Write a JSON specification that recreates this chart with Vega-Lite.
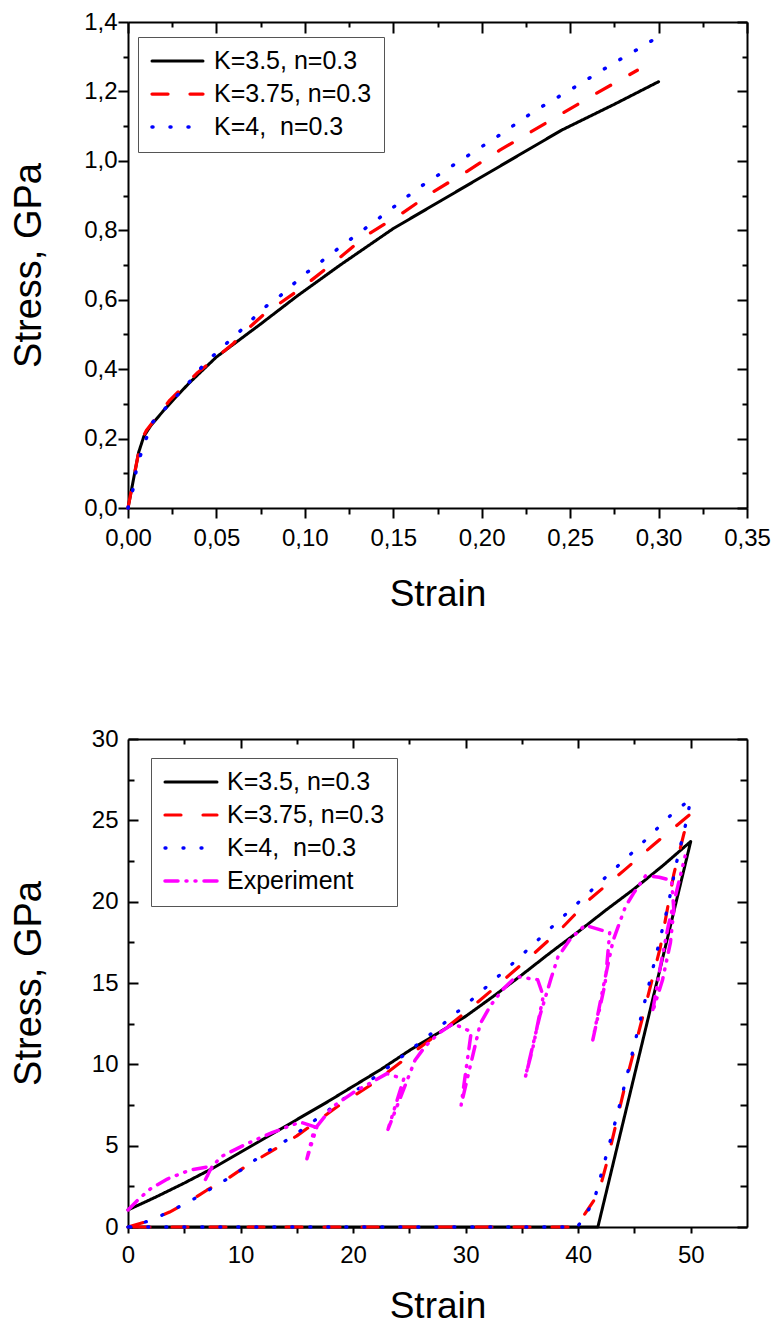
{
"$schema":"https://vega.github.io/schema/vega-lite/v6.json",
"padding":{"left":10,"top":10,"right":0,"bottom":0},
"bounds":"flush",
"spacing":231,
"config":{"view":{"stroke":null},"font":"Liberation Sans",
 "axis":{"grid":false,"domainColor":"#000","domainWidth":2,"tickColor":"#000","tickWidth":2,"labelColor":"#000","labelFont":"Liberation Sans","labelFontSize":24,"labelFlush":false,"labelOverlap":false,"titleColor":"#000","titleFont":"Liberation Sans","titleFontSize":37,"titleFontWeight":"normal"}},
"resolve":{"scale":{"color":"independent","strokeDash":"independent","strokeWidth":"independent"},"legend":{"color":"independent","strokeDash":"independent"}},
"datasets":{
"top":[
{"s":"K=3.5, n=0.3","x":0,"y":0,"i":0},{"s":"K=3.5, n=0.3","x":0.003,"y":0.08,"i":1},{"s":"K=3.5, n=0.3","x":0.006,"y":0.16,"i":2},{"s":"K=3.5, n=0.3","x":0.009,"y":0.207,"i":3},{"s":"K=3.5, n=0.3","x":0.013,"y":0.238,"i":4},{"s":"K=3.5, n=0.3","x":0.02,"y":0.28,"i":5},{"s":"K=3.5, n=0.3","x":0.0275,"y":0.322,"i":6},{"s":"K=3.5, n=0.3","x":0.035,"y":0.362,"i":7},{"s":"K=3.5, n=0.3","x":0.05,"y":0.435,"i":8},{"s":"K=3.5, n=0.3","x":0.075,"y":0.53,"i":9},{"s":"K=3.5, n=0.3","x":0.096,"y":0.612,"i":10},{"s":"K=3.5, n=0.3","x":0.12,"y":0.7,"i":11},{"s":"K=3.5, n=0.3","x":0.15,"y":0.805,"i":12},{"s":"K=3.5, n=0.3","x":0.245,"y":1.088,"i":13},{"s":"K=3.5, n=0.3","x":0.275,"y":1.163,"i":14},{"s":"K=3.5, n=0.3","x":0.3,"y":1.228,"i":15},
{"s":"K=3.75, n=0.3","x":0,"y":0,"i":0},{"s":"K=3.75, n=0.3","x":0.003,"y":0.08,"i":1},{"s":"K=3.75, n=0.3","x":0.006,"y":0.16,"i":2},{"s":"K=3.75, n=0.3","x":0.009,"y":0.21,"i":3},{"s":"K=3.75, n=0.3","x":0.0106,"y":0.225,"i":4},{"s":"K=3.75, n=0.3","x":0.0237,"y":0.311,"i":5},{"s":"K=3.75, n=0.3","x":0.0389,"y":0.388,"i":6},{"s":"K=3.75, n=0.3","x":0.0482,"y":0.426,"i":7},{"s":"K=3.75, n=0.3","x":0.0596,"y":0.474,"i":8},{"s":"K=3.75, n=0.3","x":0.067,"y":0.513,"i":9},{"s":"K=3.75, n=0.3","x":0.0765,"y":0.556,"i":10},{"s":"K=3.75, n=0.3","x":0.099,"y":0.637,"i":11},{"s":"K=3.75, n=0.3","x":0.118,"y":0.714,"i":12},{"s":"K=3.75, n=0.3","x":0.135,"y":0.786,"i":13},{"s":"K=3.75, n=0.3","x":0.155,"y":0.849,"i":14},{"s":"K=3.75, n=0.3","x":0.1726,"y":0.911,"i":15},{"s":"K=3.75, n=0.3","x":0.1915,"y":0.969,"i":16},{"s":"K=3.75, n=0.3","x":0.21,"y":1.03,"i":17},{"s":"K=3.75, n=0.3","x":0.228,"y":1.084,"i":18},{"s":"K=3.75, n=0.3","x":0.247,"y":1.141,"i":19},{"s":"K=3.75, n=0.3","x":0.265,"y":1.195,"i":20},{"s":"K=3.75, n=0.3","x":0.288,"y":1.261,"i":21},
{"s":"K=4,\u00a0 n=0.3","x":0,"y":0,"i":0},{"s":"K=4,\u00a0 n=0.3","x":0.003,"y":0.057,"i":1},{"s":"K=4,\u00a0 n=0.3","x":0.005,"y":0.12,"i":2},{"s":"K=4,\u00a0 n=0.3","x":0.0087,"y":0.177,"i":3},{"s":"K=4,\u00a0 n=0.3","x":0.0134,"y":0.244,"i":4},{"s":"K=4,\u00a0 n=0.3","x":0.0228,"y":0.297,"i":5},{"s":"K=4,\u00a0 n=0.3","x":0.0332,"y":0.354,"i":6},{"s":"K=4,\u00a0 n=0.3","x":0.0435,"y":0.417,"i":7},{"s":"K=4,\u00a0 n=0.3","x":0.0548,"y":0.47,"i":8},{"s":"K=4,\u00a0 n=0.3","x":0.066,"y":0.522,"i":9},{"s":"K=4,\u00a0 n=0.3","x":0.0765,"y":0.575,"i":10},{"s":"K=4,\u00a0 n=0.3","x":0.0878,"y":0.618,"i":11},{"s":"K=4,\u00a0 n=0.3","x":0.098,"y":0.666,"i":12},{"s":"K=4,\u00a0 n=0.3","x":0.1208,"y":0.755,"i":13},{"s":"K=4,\u00a0 n=0.3","x":0.1425,"y":0.837,"i":14},{"s":"K=4,\u00a0 n=0.3","x":0.164,"y":0.921,"i":15},{"s":"K=4,\u00a0 n=0.3","x":0.187,"y":0.998,"i":16},{"s":"K=4,\u00a0 n=0.3","x":0.2085,"y":1.069,"i":17},{"s":"K=4,\u00a0 n=0.3","x":0.23,"y":1.144,"i":18},{"s":"K=4,\u00a0 n=0.3","x":0.2518,"y":1.21,"i":19},{"s":"K=4,\u00a0 n=0.3","x":0.2735,"y":1.278,"i":20},{"s":"K=4,\u00a0 n=0.3","x":0.2857,"y":1.314,"i":21},{"s":"K=4,\u00a0 n=0.3","x":0.3,"y":1.358,"i":22}
],
"bot":[
{"s":"K=3.5, n=0.3","x":0,"y":1.05,"i":0},{"s":"K=3.5, n=0.3","x":2.5,"y":1.85,"i":1},{"s":"K=3.5, n=0.3","x":5,"y":2.7,"i":2},{"s":"K=3.5, n=0.3","x":7.5,"y":3.6,"i":3},{"s":"K=3.5, n=0.3","x":10,"y":4.6,"i":4},{"s":"K=3.5, n=0.3","x":12.5,"y":5.6,"i":5},{"s":"K=3.5, n=0.3","x":15,"y":6.6,"i":6},{"s":"K=3.5, n=0.3","x":17.5,"y":7.6,"i":7},{"s":"K=3.5, n=0.3","x":20,"y":8.65,"i":8},{"s":"K=3.5, n=0.3","x":22.5,"y":9.7,"i":9},{"s":"K=3.5, n=0.3","x":25,"y":10.85,"i":10},{"s":"K=3.5, n=0.3","x":27.5,"y":11.9,"i":11},{"s":"K=3.5, n=0.3","x":30,"y":12.95,"i":12},{"s":"K=3.5, n=0.3","x":32.5,"y":14.2,"i":13},{"s":"K=3.5, n=0.3","x":35,"y":15.5,"i":14},{"s":"K=3.5, n=0.3","x":37.5,"y":16.85,"i":15},{"s":"K=3.5, n=0.3","x":40,"y":18.15,"i":16},{"s":"K=3.5, n=0.3","x":42.5,"y":19.5,"i":17},{"s":"K=3.5, n=0.3","x":45,"y":20.8,"i":18},{"s":"K=3.5, n=0.3","x":47.5,"y":22.2,"i":19},{"s":"K=3.5, n=0.3","x":50,"y":23.7,"i":20},{"s":"K=3.5, n=0.3","x":41.75,"y":0,"i":21},{"s":"K=3.5, n=0.3","x":0,"y":0,"i":22},
{"s":"K=3.75, n=0.3","x":0,"y":0,"i":0},{"s":"K=3.75, n=0.3","x":1.5,"y":0.3,"i":1},{"s":"K=3.75, n=0.3","x":3.7,"y":0.92,"i":2},{"s":"K=3.75, n=0.3","x":5.5,"y":1.6,"i":3},{"s":"K=3.75, n=0.3","x":7,"y":2.26,"i":4},{"s":"K=3.75, n=0.3","x":8.8,"y":2.95,"i":5},{"s":"K=3.75, n=0.3","x":10.5,"y":3.75,"i":6},{"s":"K=3.75, n=0.3","x":12.6,"y":4.6,"i":7},{"s":"K=3.75, n=0.3","x":15,"y":5.6,"i":8},{"s":"K=3.75, n=0.3","x":17,"y":6.6,"i":9},{"s":"K=3.75, n=0.3","x":19,"y":7.6,"i":10},{"s":"K=3.75, n=0.3","x":21.5,"y":8.7,"i":11},{"s":"K=3.75, n=0.3","x":24,"y":10,"i":12},{"s":"K=3.75, n=0.3","x":26,"y":11.07,"i":13},{"s":"K=3.75, n=0.3","x":28,"y":12.1,"i":14},{"s":"K=3.75, n=0.3","x":30,"y":13.2,"i":15},{"s":"K=3.75, n=0.3","x":32.5,"y":14.66,"i":16},{"s":"K=3.75, n=0.3","x":35.4,"y":16.4,"i":17},{"s":"K=3.75, n=0.3","x":38.3,"y":18.2,"i":18},{"s":"K=3.75, n=0.3","x":41.1,"y":20.2,"i":19},{"s":"K=3.75, n=0.3","x":44.1,"y":21.94,"i":20},{"s":"K=3.75, n=0.3","x":46.7,"y":23.5,"i":21},{"s":"K=3.75, n=0.3","x":50,"y":25.4,"i":22},{"s":"K=3.75, n=0.3","x":49.4,"y":24.2,"i":23},{"s":"K=3.75, n=0.3","x":48.5,"y":21.7,"i":24},{"s":"K=3.75, n=0.3","x":47.3,"y":17.2,"i":25},{"s":"K=3.75, n=0.3","x":45.8,"y":13.1,"i":26},{"s":"K=3.75, n=0.3","x":44.2,"y":8.8,"i":27},{"s":"K=3.75, n=0.3","x":42.6,"y":4.1,"i":28},{"s":"K=3.75, n=0.3","x":41.8,"y":2.05,"i":29},{"s":"K=3.75, n=0.3","x":40.2,"y":0.4,"i":30},{"s":"K=3.75, n=0.3","x":39.3,"y":0,"i":31},{"s":"K=3.75, n=0.3","x":0,"y":0,"i":32},
{"s":"K=4,\u00a0 n=0.3","x":0,"y":0,"i":0},{"s":"K=4,\u00a0 n=0.3","x":2,"y":0.4,"i":1},{"s":"K=4,\u00a0 n=0.3","x":3.7,"y":0.95,"i":2},{"s":"K=4,\u00a0 n=0.3","x":5.4,"y":1.54,"i":3},{"s":"K=4,\u00a0 n=0.3","x":7,"y":2.2,"i":4},{"s":"K=4,\u00a0 n=0.3","x":8.8,"y":2.95,"i":5},{"s":"K=4,\u00a0 n=0.3","x":10.5,"y":3.7,"i":6},{"s":"K=4,\u00a0 n=0.3","x":12,"y":4.5,"i":7},{"s":"K=4,\u00a0 n=0.3","x":13.8,"y":5.2,"i":8},{"s":"K=4,\u00a0 n=0.3","x":15.5,"y":6,"i":9},{"s":"K=4,\u00a0 n=0.3","x":17.4,"y":6.97,"i":10},{"s":"K=4,\u00a0 n=0.3","x":19.2,"y":7.9,"i":11},{"s":"K=4,\u00a0 n=0.3","x":20.9,"y":8.7,"i":12},{"s":"K=4,\u00a0 n=0.3","x":22.6,"y":9.55,"i":13},{"s":"K=4,\u00a0 n=0.3","x":24.3,"y":10.45,"i":14},{"s":"K=4,\u00a0 n=0.3","x":27.7,"y":12.3,"i":15},{"s":"K=4,\u00a0 n=0.3","x":31.1,"y":14.3,"i":16},{"s":"K=4,\u00a0 n=0.3","x":34.5,"y":16.4,"i":17},{"s":"K=4,\u00a0 n=0.3","x":38,"y":18.66,"i":18},{"s":"K=4,\u00a0 n=0.3","x":41.5,"y":20.9,"i":19},{"s":"K=4,\u00a0 n=0.3","x":45.1,"y":23.2,"i":20},{"s":"K=4,\u00a0 n=0.3","x":48.5,"y":25.5,"i":21},{"s":"K=4,\u00a0 n=0.3","x":50,"y":26.3,"i":22},{"s":"K=4,\u00a0 n=0.3","x":49.6,"y":24.9,"i":23},{"s":"K=4,\u00a0 n=0.3","x":48.7,"y":22.3,"i":24},{"s":"K=4,\u00a0 n=0.3","x":48,"y":19.8,"i":25},{"s":"K=4,\u00a0 n=0.3","x":47.1,"y":17.2,"i":26},{"s":"K=4,\u00a0 n=0.3","x":46.2,"y":14.66,"i":27},{"s":"K=4,\u00a0 n=0.3","x":45.3,"y":12.1,"i":28},{"s":"K=4,\u00a0 n=0.3","x":44.4,"y":9.5,"i":29},{"s":"K=4,\u00a0 n=0.3","x":43.5,"y":7,"i":30},{"s":"K=4,\u00a0 n=0.3","x":42.5,"y":4.4,"i":31},{"s":"K=4,\u00a0 n=0.3","x":41.5,"y":1.85,"i":32},{"s":"K=4,\u00a0 n=0.3","x":40.6,"y":0.6,"i":33},{"s":"K=4,\u00a0 n=0.3","x":39.9,"y":0,"i":34},{"s":"K=4,\u00a0 n=0.3","x":0,"y":0,"i":35},
{"s":"Experiment","x":0,"y":1.05,"i":0},{"s":"Experiment","x":1,"y":1.75,"i":1},{"s":"Experiment","x":2,"y":2.35,"i":2},{"s":"Experiment","x":3.5,"y":2.95,"i":3},{"s":"Experiment","x":5.5,"y":3.5,"i":4},{"s":"Experiment","x":7.5,"y":3.75,"i":5},{"s":"Experiment","x":6.8,"y":2.8,"i":6},{"s":"Experiment","x":7.3,"y":3.5,"i":7},{"s":"Experiment","x":8.2,"y":4.3,"i":8},{"s":"Experiment","x":10.5,"y":5.1,"i":9},{"s":"Experiment","x":12.8,"y":5.8,"i":10},{"s":"Experiment","x":15.3,"y":6.45,"i":11},{"s":"Experiment","x":16.6,"y":6.15,"i":12},{"s":"Experiment","x":15.9,"y":4.2,"i":13},{"s":"Experiment","x":16.8,"y":6.2,"i":14},{"s":"Experiment","x":18.2,"y":7.4,"i":15},{"s":"Experiment","x":20.1,"y":8.3,"i":16},{"s":"Experiment","x":21.4,"y":8.8,"i":17},{"s":"Experiment","x":23,"y":9.43,"i":18},{"s":"Experiment","x":24.5,"y":9.1,"i":19},{"s":"Experiment","x":23.1,"y":6,"i":20},{"s":"Experiment","x":25.5,"y":10.25,"i":21},{"s":"Experiment","x":26.4,"y":11.1,"i":22},{"s":"Experiment","x":27.6,"y":11.9,"i":23},{"s":"Experiment","x":28.9,"y":12.5,"i":24},{"s":"Experiment","x":30.5,"y":12,"i":25},{"s":"Experiment","x":29.6,"y":7.5,"i":26},{"s":"Experiment","x":31.3,"y":12.5,"i":27},{"s":"Experiment","x":32.2,"y":13.6,"i":28},{"s":"Experiment","x":33.3,"y":14.6,"i":29},{"s":"Experiment","x":34.5,"y":15.4,"i":30},{"s":"Experiment","x":36.4,"y":15.2,"i":31},{"s":"Experiment","x":36.9,"y":14.2,"i":32},{"s":"Experiment","x":36,"y":11.1,"i":33},{"s":"Experiment","x":35.3,"y":9.2,"i":34},{"s":"Experiment","x":36.6,"y":13,"i":35},{"s":"Experiment","x":37.6,"y":15.3,"i":36},{"s":"Experiment","x":38.2,"y":16.6,"i":37},{"s":"Experiment","x":39.3,"y":17.7,"i":38},{"s":"Experiment","x":40.6,"y":18.55,"i":39},{"s":"Experiment","x":42.8,"y":18.1,"i":40},{"s":"Experiment","x":42.4,"y":15,"i":41},{"s":"Experiment","x":41.9,"y":13.4,"i":42},{"s":"Experiment","x":41.3,"y":11.5,"i":43},{"s":"Experiment","x":42.3,"y":15,"i":44},{"s":"Experiment","x":43.1,"y":17.6,"i":45},{"s":"Experiment","x":44.2,"y":19.7,"i":46},{"s":"Experiment","x":45,"y":20.6,"i":47},{"s":"Experiment","x":46,"y":21.6,"i":48},{"s":"Experiment","x":47.2,"y":21.5,"i":49},{"s":"Experiment","x":48.3,"y":21.3,"i":50},{"s":"Experiment","x":48.5,"y":19.5,"i":51},{"s":"Experiment","x":48.2,"y":17.5,"i":52},{"s":"Experiment","x":47.5,"y":15.2,"i":53},{"s":"Experiment","x":46.6,"y":13.2,"i":54},{"s":"Experiment","x":47.3,"y":16,"i":55},{"s":"Experiment","x":48,"y":18.5,"i":56},{"s":"Experiment","x":49.5,"y":22.8,"i":57}
]},
"vconcat":[
{"width":619,"height":486,"data":{"name":"top"},
 "resolve":{"axis":{"x":"independent","y":"independent"}},
 "layer":[
 {"mark":{"type":"line","strokeCap":"round","strokeJoin":"round"},
  "encoding":{
   "x":{"field":"x","type":"quantitative","scale":{"domain":[0,0.35],"nice":false,"zero":false},
     "axis":{"orient":"bottom","values":[0,0.05,0.1,0.15,0.2,0.25,0.3,0.35],"labelExpr":"replace(format(datum.value,'.2f'),'.',',')","tickSize":10,"labelPadding":8,"title":"Strain","titleX":309.5,"titleY":86,"titleBaseline":"middle"}},
   "y":{"field":"y","type":"quantitative","scale":{"domain":[0,1.4],"nice":false,"zero":false},
     "axis":{"orient":"left","values":[0,0.2,0.4,0.6,0.8,1.0,1.2,1.4],"labelExpr":"replace(format(datum.value,'.1f'),'.',',')","tickSize":10,"labelPadding":1,"title":"Stress, GPa","titleFontSize":38,"titleAngle":-90,"titleX":-99,"titleY":243,"titleBaseline":"middle","titleAlign":"center"}},
   "order":{"field":"i","type":"quantitative"},
   "color":{"field":"s","type":"nominal","scale":{"domain":["K=3.5, n=0.3","K=3.75, n=0.3","K=4,\u00a0 n=0.3"],"range":["#000000","#ff0000","#0000ff"]},
     "legend":{"title":null,"orient":"none","legendX":10,"legendY":15,"symbolType":"stroke","symbolSize":2601,"symbolStrokeWidth":3.5,"labelFontSize":25,"labelFont":"Liberation Sans","labelColor":"#000","labelOffset":9,"rowPadding":8,"padding":12,"strokeColor":"#555","fillColor":"#ffffff","encode":{"symbols":{"update":{"strokeCap":{"value":"round"},"y":{"value":12}}},"labels":{"update":{"y":{"value":12}}}}}},
   "strokeDash":{"field":"s","type":"nominal","scale":{"domain":["K=3.5, n=0.3","K=3.75, n=0.3","K=4,\u00a0 n=0.3"],"range":[[1,0],[16,22],[1,17]]},
     "legend":{"title":null,"orient":"none","legendX":10,"legendY":15,"symbolType":"stroke","symbolSize":2601,"symbolStrokeWidth":3.5,"labelFontSize":25,"labelFont":"Liberation Sans","labelColor":"#000","labelOffset":9,"rowPadding":8,"padding":12,"strokeColor":"#555","fillColor":"#ffffff","encode":{"symbols":{"update":{"strokeCap":{"value":"round"},"y":{"value":12}}},"labels":{"update":{"y":{"value":12}}}}}},
   "strokeWidth":{"field":"s","type":"nominal","scale":{"domain":["K=3.5, n=0.3","K=3.75, n=0.3","K=4,\u00a0 n=0.3"],"range":[3,3.5,4.5]},"legend":null}
  }},
 {"mark":{"type":"point","opacity":0,"size":0},
  "encoding":{
   "x":{"field":"x","type":"quantitative","scale":{"domain":[0,0.35],"nice":false,"zero":false},"axis":{"orient":"bottom","values":[0.025,0.075,0.125,0.175,0.225,0.275,0.325],"tickSize":6,"labels":false,"domain":false,"title":null}},
   "y":{"field":"y","type":"quantitative","scale":{"domain":[0,1.4],"nice":false,"zero":false},"axis":{"orient":"left","values":[0.1,0.3,0.5,0.7,0.9,1.1,1.3],"tickSize":5,"labels":false,"domain":false,"title":null}}}},
 {"mark":{"type":"point","opacity":0,"size":0},
  "encoding":{
   "x":{"field":"x","type":"quantitative","scale":{"domain":[0,0.35],"nice":false,"zero":false},"axis":{"orient":"top","values":[0,0.05,0.1,0.15,0.2,0.25,0.3,0.35],"tickSize":-11,"labels":false,"title":null}},
   "y":{"field":"y","type":"quantitative","scale":{"domain":[0,1.4],"nice":false,"zero":false},"axis":{"orient":"right","values":[0,0.2,0.4,0.6,0.8,1.0,1.2,1.4],"tickSize":-10,"labels":false,"title":null}}}},
 {"mark":{"type":"point","opacity":0,"size":0},
  "encoding":{
   "x":{"field":"x","type":"quantitative","scale":{"domain":[0,0.35],"nice":false,"zero":false},"axis":{"orient":"top","values":[0.025,0.075,0.125,0.175,0.225,0.275,0.325],"tickSize":-5,"labels":false,"domain":false,"title":null}},
   "y":{"field":"y","type":"quantitative","scale":{"domain":[0,1.4],"nice":false,"zero":false},"axis":{"orient":"right","values":[0.1,0.3,0.5,0.7,0.9,1.1,1.3],"tickSize":-5,"labels":false,"domain":false,"title":null}}}}
 ]},
{"width":619,"height":488,"data":{"name":"bot"},
 "resolve":{"axis":{"x":"independent","y":"independent"}},
 "layer":[
 {"mark":{"type":"line","strokeCap":"round","strokeJoin":"round"},
  "encoding":{
   "x":{"field":"x","type":"quantitative","scale":{"domain":[0,55],"nice":false,"zero":false},
     "axis":{"orient":"bottom","values":[0,5,10,15,20,25,30,35,40,45,50],"labelExpr":"datum.value % 10 === 0 ? datum.label : ''","tickSize":6,"labelPadding":10,"title":"Strain","titleX":309.5,"titleY":79,"titleBaseline":"middle"}},
   "y":{"field":"y","type":"quantitative","scale":{"domain":[0,30],"nice":false,"zero":false},
     "axis":{"orient":"left","values":[0,5,10,15,20,25,30],"ticks":false,"labelPadding":10,"title":"Stress, GPa","titleFontSize":38,"titleAngle":-90,"titleX":-99,"titleY":244,"titleBaseline":"middle","titleAlign":"center"}},
   "order":{"field":"i","type":"quantitative"},
   "color":{"field":"s","type":"nominal","scale":{"domain":["K=3.5, n=0.3","K=3.75, n=0.3","K=4,\u00a0 n=0.3","Experiment"],"range":["#000000","#ff0000","#0000ff","#ff00ff"]},
     "legend":{"title":null,"orient":"none","legendX":23,"legendY":19,"symbolType":"stroke","symbolSize":2704,"symbolStrokeWidth":3.5,"labelFontSize":25,"labelFont":"Liberation Sans","labelColor":"#000","labelOffset":8,"rowPadding":8,"padding":12,"strokeColor":"#555","fillColor":"#ffffff","encode":{"symbols":{"update":{"strokeCap":{"value":"round"},"y":{"value":12}}},"labels":{"update":{"y":{"value":12}}}}}},
   "strokeDash":{"field":"s","type":"nominal","scale":{"domain":["K=3.5, n=0.3","K=3.75, n=0.3","K=4,\u00a0 n=0.3","Experiment"],"range":[[1,0],[16,22],[1,17],[13,8,1,8,1,8]]},
     "legend":{"title":null,"orient":"none","legendX":23,"legendY":19,"symbolType":"stroke","symbolSize":2704,"symbolStrokeWidth":3.5,"labelFontSize":25,"labelFont":"Liberation Sans","labelColor":"#000","labelOffset":8,"rowPadding":8,"padding":12,"strokeColor":"#555","fillColor":"#ffffff","encode":{"symbols":{"update":{"strokeCap":{"value":"round"},"y":{"value":12}}},"labels":{"update":{"y":{"value":12}}}}}},
   "strokeWidth":{"field":"s","type":"nominal","scale":{"domain":["K=3.5, n=0.3","K=3.75, n=0.3","K=4,\u00a0 n=0.3","Experiment"],"range":[3,3.5,4.5,3.5]},"legend":null}
  }},
 {"mark":{"type":"point","opacity":0,"size":0},
  "encoding":{
   "x":{"field":"x","type":"quantitative","scale":{"domain":[0,55],"nice":false,"zero":false},"axis":null},
   "y":{"field":"y","type":"quantitative","scale":{"domain":[0,30],"nice":false,"zero":false},"axis":{"orient":"left","values":[0,5,10,15,20,25,30],"tickSize":-10,"labels":false,"domain":false,"title":null}}}},
 {"mark":{"type":"point","opacity":0,"size":0},
  "encoding":{
   "x":{"field":"x","type":"quantitative","scale":{"domain":[0,55],"nice":false,"zero":false},"axis":{"orient":"top","values":[10,20,30,40,50],"tickSize":-9,"labels":false,"title":null}},
   "y":{"field":"y","type":"quantitative","scale":{"domain":[0,30],"nice":false,"zero":false},"axis":{"orient":"left","values":[2.5,7.5,12.5,17.5,22.5,27.5],"tickSize":-6,"labels":false,"domain":false,"title":null}}}},
 {"mark":{"type":"point","opacity":0,"size":0},
  "encoding":{
   "x":{"field":"x","type":"quantitative","scale":{"domain":[0,55],"nice":false,"zero":false},"axis":{"orient":"top","values":[5,15,25,35,45],"tickSize":-5,"labels":false,"domain":false,"title":null}},
   "y":{"field":"y","type":"quantitative","scale":{"domain":[0,30],"nice":false,"zero":false},"axis":{"orient":"right","values":[0,5,10,15,20,25,30],"tickSize":-10,"labels":false,"title":null}}}},
 {"mark":{"type":"point","opacity":0,"size":0},
  "encoding":{
   "x":{"field":"x","type":"quantitative","scale":{"domain":[0,55],"nice":false,"zero":false},"axis":null},
   "y":{"field":"y","type":"quantitative","scale":{"domain":[0,30],"nice":false,"zero":false},"axis":{"orient":"right","values":[2.5,7.5,12.5,17.5,22.5,27.5],"tickSize":-7,"labels":false,"domain":false,"title":null}}}}
 ]}
]}
